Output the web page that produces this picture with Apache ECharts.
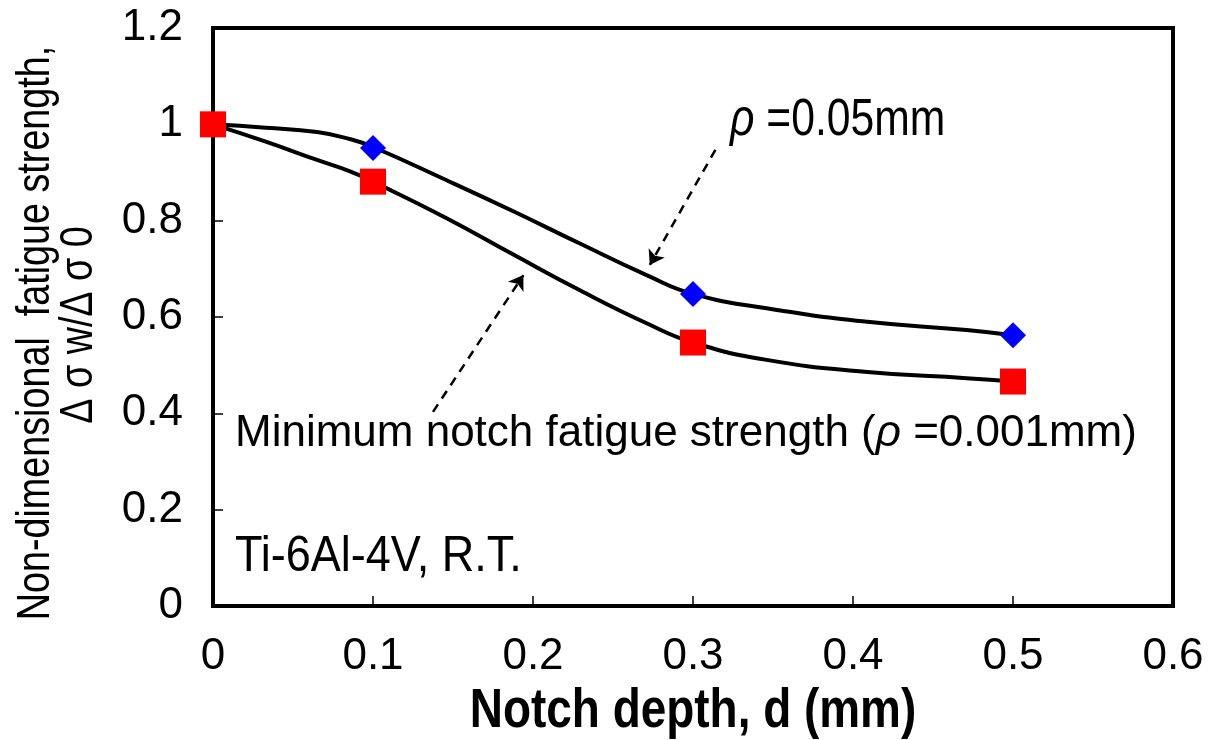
<!DOCTYPE html>
<html>
<head>
<meta charset="utf-8">
<script src="https://cdn.jsdelivr.net/npm/echarts@6/dist/echarts.min.js"></script>
<style>
  html, body { margin: 0; padding: 0; background: #fff; }
  #chart { width: 1213px; height: 740px; }
</style>
</head>
<body>
<div id="chart"></div>
<script>
// measured points
const depth = [0, 0.1, 0.3, 0.5];
const rho005 = [1.0, 0.951, 0.648, 0.562];   // blue diamonds, rho = 0.05mm
const rho0001 = [1.0, 0.881, 0.547, 0.466];  // red squares, rho = 0.001mm

// fitted curves
const curveX = [0, 0.033, 0.065, 0.086, 0.1, 0.146, 0.188, 0.229, 0.271, 0.3, 0.346, 0.409, 0.471, 0.5];
const curveUpper = [1.0, 0.993, 0.984, 0.969, 0.953, 0.884, 0.819, 0.753, 0.687, 0.648, 0.618, 0.590, 0.573, 0.562];
const curveLower = [1.0, 0.964, 0.926, 0.902, 0.881, 0.805, 0.729, 0.656, 0.587, 0.547, 0.511, 0.486, 0.473, 0.466];

// dashed arrows (data coords: tail -> head)
const arrowUpper = [[0.314, 0.947], [0.273, 0.708]];
const arrowLower = [[0.1375, 0.403], [0.194, 0.687]];

const SANS = '"Liberation Sans", Arial, sans-serif';
const NARROW_X = 0.82; // squeeze text to look like the condensed gothic font

const pairs = (xs, ys) => xs.map((x, i) => [x, ys[i]]);

const chart = echarts.init(document.getElementById('chart'));

chart.setOption({
    animation: false,
    grid: {
        left: 213, right: 40, top: 28, bottom: 134,
        show: true, borderColor: '#000', borderWidth: 4
    },
    xAxis: {
        type: 'value',
        min: 0, max: 0.6, interval: 0.1,
        axisLine: { lineStyle: { color: '#000', width: 4 } },
        axisTick: { inside: true, length: 10, lineStyle: { color: '#000', width: 1.5 } },
        axisLabel: { fontFamily: SANS, fontSize: 44, color: '#000', margin: 29 },
        splitLine: { show: false }
    },
    yAxis: {
        type: 'value',
        min: 0, max: 1.2, interval: 0.2,
        axisLine: { lineStyle: { color: '#000', width: 4 } },
        axisTick: { inside: true, length: 10, lineStyle: { color: '#000', width: 1.5 } },
        axisLabel: { fontFamily: SANS, fontSize: 44, color: '#000', margin: 30 },
        splitLine: { show: false }
    },
    graphic: [
        {
            type: 'text', x: 693, y: 712, scaleX: NARROW_X,
            style: {
                text: 'Notch depth, d (mm)',
                fontFamily: SANS, fontSize: 56, fontWeight: 'bold', fill: '#000',
                align: 'center', verticalAlign: 'middle'
            }
        },
        {
            type: 'text', x: 36, y: 333, rotation: Math.PI / 2, scaleX: NARROW_X,
            style: {
                text: 'Non-dimensional  fatigue strength,',
                fontFamily: SANS, fontSize: 46, fill: '#000',
                align: 'center', verticalAlign: 'middle'
            }
        },
        {
            type: 'text', x: 79, y: 325, rotation: Math.PI / 2, scaleX: NARROW_X,
            style: {
                text: 'Δ σ w/Δ σ 0',
                fontFamily: SANS, fontSize: 46, fill: '#000',
                align: 'center', verticalAlign: 'middle'
            }
        },
        {
            type: 'text', x: 730, y: 121, scaleX: NARROW_X,
            style: {
                text: '{i|ρ} =0.05mm',
                fontFamily: SANS, fontSize: 52, fill: '#000',
                verticalAlign: 'middle',
                rich: { i: { fontFamily: SANS, fontStyle: 'italic', fontSize: 52 } }
            }
        },
        {
            type: 'text', x: 235, y: 434,
            style: {
                text: 'Minimum notch fatigue strength ({i|ρ} =0.001mm)',
                fontFamily: SANS, fontSize: 44, fill: '#000',
                verticalAlign: 'middle',
                rich: { i: { fontFamily: SANS, fontStyle: 'italic', fontSize: 44 } }
            }
        },
        {
            type: 'text', x: 235, y: 557, scaleX: 0.9,
            style: {
                text: 'Ti-6Al-4V, R.T.',
                fontFamily: SANS, fontSize: 50, fill: '#000',
                verticalAlign: 'middle'
            }
        }
    ],
    series: [
        {
            name: 'curve 0.05',
            type: 'line',
            data: pairs(curveX, curveUpper),
            smooth: 0.5,
            showSymbol: false,
            lineStyle: { color: '#000', width: 4 },
            z: 2,
            markLine: {
                silent: true,
                symbol: ['none', 'arrow'],
                symbolSize: 14,
                label: { show: false },
                lineStyle: { color: '#000', width: 2.5, type: [9, 7] },
                data: [
                    [{ coord: arrowUpper[0] }, { coord: arrowUpper[1] }],
                    [{ coord: arrowLower[0] }, { coord: arrowLower[1] }]
                ]
            }
        },
        {
            name: 'curve 0.001',
            type: 'line',
            data: pairs(curveX, curveLower),
            smooth: 0.5,
            showSymbol: false,
            lineStyle: { color: '#000', width: 4 },
            z: 2
        },
        {
            name: 'ρ=0.05mm',
            type: 'scatter',
            data: pairs(depth, rho005),
            symbol: 'diamond',
            symbolSize: 26,
            itemStyle: { color: '#0000ff', opacity: 1 },
            z: 3
        },
        {
            name: 'ρ=0.001mm',
            type: 'scatter',
            data: pairs(depth, rho0001),
            symbol: 'rect',
            symbolSize: 26,
            itemStyle: { color: '#ff0000', opacity: 1 },
            z: 4
        }
    ]
});
</script>
</body>
</html>
